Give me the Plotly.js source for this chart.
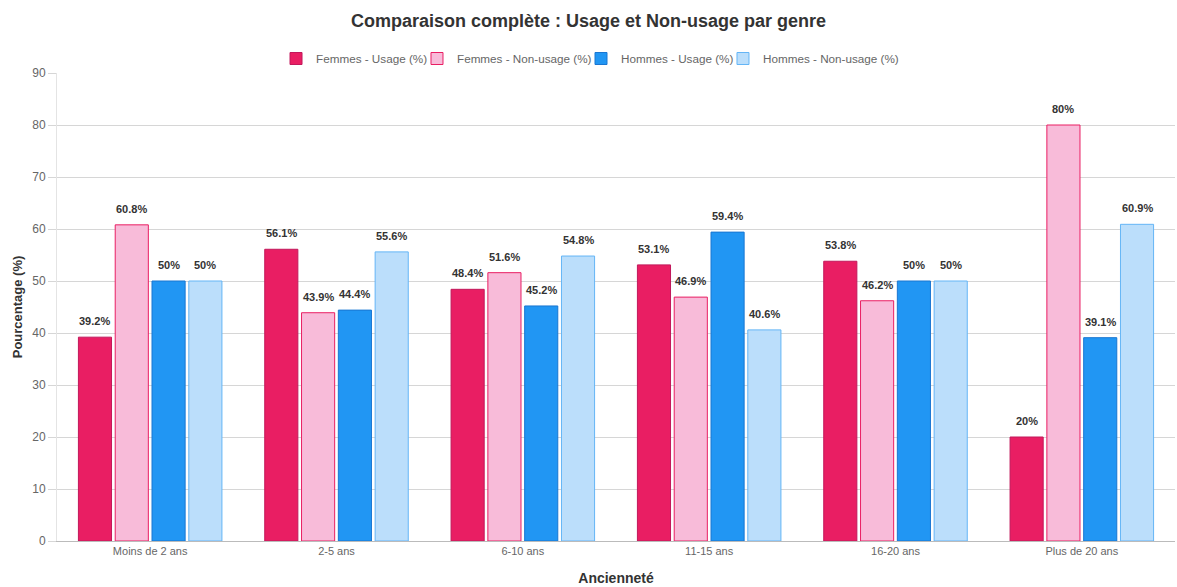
<!DOCTYPE html>
<html><head><meta charset="utf-8">
<script src="https://cdn.plot.ly/plotly-3.0.1.min.js"></script>
<style>html,body{margin:0;padding:0;background:#fff}#chart{width:1177px;height:587px}</style>
</head><body><div id="chart"></div>
<script>
const categories = ["Moins de 2 ans", "2-5 ans", "6-10 ans", "11-15 ans", "16-20 ans", "Plus de 20 ans"];
const femmesUsage = [39.2, 56.1, 48.4, 53.1, 53.8, 20];
const femmesNonUsage = [60.8, 43.9, 51.6, 46.9, 46.2, 80];
const hommesUsage = [50, 44.4, 45.2, 59.4, 50, 39.1];
const hommesNonUsage = [50, 55.6, 54.8, 40.6, 50, 60.9];
const seriesNames = ["Femmes - Usage (%)", "Femmes - Non-usage (%)", "Hommes - Usage (%)", "Hommes - Non-usage (%)"];

const fills = ["#E91E63", "#F8BBD9", "#2196F3", "#BBDEFB"];
const borders = ["#C2185B", "#E91E63", "#1976D2", "#64B5F6"];
const allSeries = [femmesUsage, femmesNonUsage, hommesUsage, hommesNonUsage];
const FONT = "Liberation Sans, Arial, sans-serif";
const bargap = 0.21;
// legend entry left edges (paper fraction of plot width), one legend per series
const legendX = [0.1959, 0.322, 0.4687, 0.5957];
const legendIds = ["legend", "legend2", "legend3", "legend4"];

const traces = allSeries.map((vals, k) => ({
  type: "bar",
  name: seriesNames[k],
  x: categories,
  y: vals,
  legend: legendIds[k],
  showlegend: true,
  marker: {color: fills[k], line: {color: borders[k], width: 1}},
  hoverinfo: "skip"
}));

// value labels above each bar, anchored to the data through the axes
const slot = (1 - bargap) / allSeries.length;
const annotations = [];
allSeries.forEach((vals, k) => {
  vals.forEach((v, i) => {
    annotations.push({
      x: i + (k - (allSeries.length - 1) / 2) * slot, xref: "x",
      y: v, yref: "y",
      text: "<b>" + v + "%</b>",
      showarrow: false, yanchor: "bottom", xanchor: "center", yshift: 8,
      font: {family: FONT, size: 11, color: "#333"}
    });
  });
});

const layout = {
  width: 1177, height: 587,
  margin: {l: 57, r: 2, t: 73, b: 46},
  paper_bgcolor: "#fff", plot_bgcolor: "#fff",
  font: {family: FONT, color: "#666", size: 11},
  showlegend: true,
  title: {text: "<b>Comparaison complète : Usage et Non-usage par genre</b>", x: 0.5, xanchor: "center", y: 0.965, yanchor: "middle",
    font: {size: 18, color: "#333", family: FONT}},
  barmode: "group",
  bargap: bargap,
  bargroupgap: 0.1,
  annotations: annotations,
  xaxis: {
    type: "category",
    title: {text: "<b>Ancienneté</b>", font: {size: 14, color: "#333"}, standoff: 16},
    tickfont: {size: 11, color: "#666"},
    showgrid: false, showline: true, linecolor: "#bbb", linewidth: 1,
    ticks: "", automargin: false
  },
  yaxis: {
    range: [0, 90], dtick: 10,
    title: {text: "<b>Pourcentage (%)</b>", font: {size: 13, color: "#333"}, standoff: 6},
    tickfont: {size: 12, color: "#666"},
    showgrid: true, gridcolor: "#d6d6d6", gridwidth: 1,
    zeroline: true, zerolinecolor: "#bbb",
    showline: true, linecolor: "#e4e4e4",
    ticks: "outside", ticklen: 8, tickcolor: "#d6d6d6",
    automargin: false
  }
};
legendIds.forEach((id, k) => {
  layout[id] = {visible: true, orientation: "h", x: legendX[k], xanchor: "left", y: 1.0, yanchor: "bottom",
    font: {size: 11.7, color: "#666", family: FONT}, itemwidth: 30, bgcolor: "rgba(0,0,0,0)"};
});

Plotly.newPlot("chart", traces, layout, {displayModeBar: false, staticPlot: true});
</script></body></html>
